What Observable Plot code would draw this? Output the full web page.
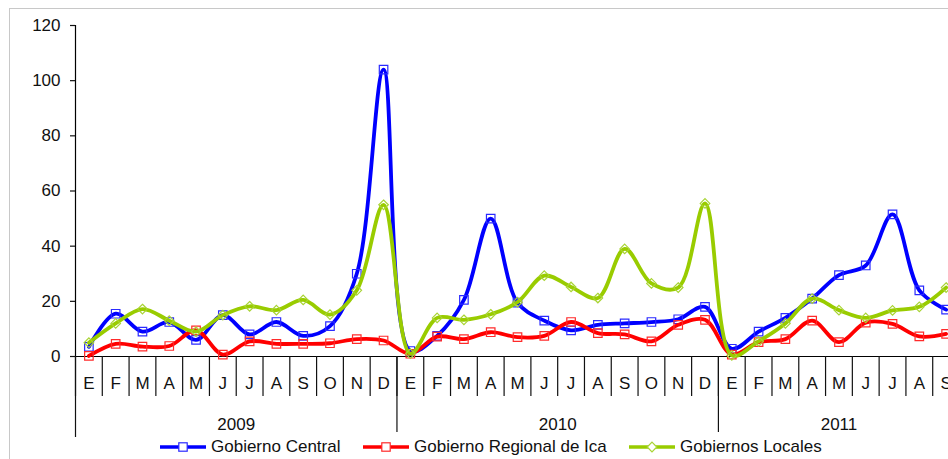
<!DOCTYPE html>
<html>
<head>
<meta charset="utf-8">
<script src="https://cdn.jsdelivr.net/npm/d3@7"></script>
<script src="https://cdn.jsdelivr.net/npm/@observablehq/plot@0.6"></script>
<style>
  html, body { margin: 0; padding: 0; overflow: hidden; background: #fff; width: 948px; height: 459px; }
  #frame { position: absolute; left: 9px; top: 8px; width: 1100px; height: 600px; border: 1px solid #c8c8c8; pointer-events: none; }
  #chart { position: absolute; left: 0; top: 0; width: 960px; height: 440px; }
  #chart svg { max-width: none !important; }
  .leg { position: absolute; top: 438px; height: 18px; display: flex; align-items: center; font-family: "Liberation Sans", Arial, sans-serif; font-size: 17px; color: #111; white-space: nowrap; }
  .leg svg { display: block; margin-right: 5px; }
</style>
</head>
<body>
<div id="chart"></div>
<div id="frame"></div>
<div id="legend"></div>
<script>
// ---- data ----
const monthNames = ["E","F","M","A","M","J","J","A","S","O","N","D"];
const years = ["2009","2010","2011"];
const monthsPerYear = [12, 12, 9];
const yTicks = [0, 20, 40, 60, 80, 100, 120];

const gobiernoCentral = [3.5,15.5,9,12.5,6,15,8,12.5,7.5,11,30,104,
                         2,7.5,20.5,50,19.5,13,9.5,11.5,12,12.5,13.5,18,
                         2.8,9,14,21,29.5,33,51.5,24,17];
const gobiernoRegional = [0.2,4.6,3.6,3.8,9.5,0.7,5.5,4.6,4.6,4.8,6.3,5.8,
                          1,7.2,6.3,8.8,7,7.5,12.5,8.5,8,5.5,11.5,13.3,
                          0.7,5.2,6.3,13,5.2,12.3,11.8,7.3,8.2];
const gobiernosLocales = [5,12,17.2,13,9,15,18.2,16.8,20.5,15.2,24,55,
                          1,14,13.3,15.3,19.7,29.3,25.2,21.2,39,26.5,25,55.5,
                          0.4,5.5,12,21,16.8,14,16.7,18,25];
const seriesNames = ["Gobierno Central", "Gobierno Regional de Ica", "Gobiernos Locales"];

// ---- build table ----
const rows = [];
const yearCenters = [];
const yearBounds = [];
let idx = 0;
years.forEach((y, k) => {
  const start = idx;
  for (let m = 0; m < monthsPerYear[k]; m++) {
    rows.push({i: idx, year: y, month: monthNames[m],
               central: gobiernoCentral[idx], regional: gobiernoRegional[idx], locales: gobiernosLocales[idx]});
    idx++;
  }
  yearCenters.push({c: (start - 0.5 + idx - 0.5) / 2, label: y});
  if (k > 0) yearBounds.push(start - 0.5);
});
const n = idx;
const indices = rows.map(d => d.i);
const monthBounds = d3.range(0, n + 1).map(k => k - 0.5);
const yearLabelByCenter = new Map(yearCenters.map(d => [d.c, d.label]));

const styles = [
  {key: "central", color: "#0000ff", mark: "#2a2aff", symbol: "square", r: 4.8},
  {key: "regional", color: "#ff0000", mark: "#ff2a2a", symbol: "square", r: 4.8},
  {key: "locales", color: "#99cc00", mark: "#a8d433", symbol: "diamond2", r: 4.3}
];

const font = {fontSize: 17, fontFamily: "Liberation Sans, Arial, sans-serif"};

const seriesMarks = styles.flatMap(s => [
  Plot.line(rows, {x: "i", y: s.key, stroke: s.color, strokeWidth: 3.8, curve: "catmull-rom"}),
  Plot.dot(rows, {x: "i", y: s.key, symbol: s.symbol, r: s.r, stroke: s.mark, fill: "none", strokeWidth: 1.2})
]);

const chart = Plot.plot({
  width: 960,
  height: 440,
  marginLeft: 75,
  marginRight: 1,
  marginTop: 25,
  marginBottom: 84,
  style: {fontFamily: "Liberation Sans, Arial, sans-serif", color: "#111", background: "transparent", maxWidth: "none"},
  x: {type: "linear", domain: [-0.5, n - 0.5], label: null},
  y: {domain: [0, 120], label: null},
  marks: [
    Plot.ruleY([0], {stroke: "#000", strokeWidth: 1.2}),
    Plot.ruleX([-0.5], {stroke: "#000", strokeWidth: 1.2}),
    Plot.axisY(yTicks, {tickSize: 5, tickPadding: 10, label: null, strokeWidth: 1.2, ...font}),
    Plot.axisX(monthBounds, {tickSize: 40, tickFormat: () => "", label: null, strokeWidth: 1.2}),
    Plot.axisX(yearBounds, {tickSize: 76, tickFormat: () => "", label: null, strokeWidth: 1.2}),
    Plot.axisX([-0.5], {tickSize: 81, tickFormat: () => "", label: null, strokeWidth: 1.2}),
    Plot.axisX(indices, {tickSize: 0, tickPadding: 20, tickFormat: i => rows[i].month, label: null, ...font}),
    Plot.axisX(yearCenters.map(d => d.c), {tickSize: 0, tickPadding: 61, tickFormat: c => yearLabelByCenter.get(c), label: null, ...font}),
    ...seriesMarks
  ]
});
chart.style.maxWidth = "none";
document.getElementById("chart").appendChild(chart);

// ---- legend ----
const legendLeft = [160, 363, 629];
const legend = document.getElementById("legend");
styles.forEach((s, k) => {
  const item = document.createElement("div");
  item.className = "leg";
  item.style.left = legendLeft[k] + "px";
  const w = 46, h = 14;
  const sym = s.symbol === "square"
    ? `<rect x="${w/2-4.2}" y="${h/2-4.2}" width="8.4" height="8.4" fill="#fff" stroke="${s.mark}" stroke-width="1.2"/>`
    : `<path d="M${w/2},${h/2-4.8}L${w/2+4.8},${h/2}L${w/2},${h/2+4.8}L${w/2-4.8},${h/2}Z" fill="#fff" stroke="${s.mark}" stroke-width="1.2"/>`;
  item.innerHTML = `<svg width="${w}" height="${h}"><line x1="0" x2="${w}" y1="${h/2}" y2="${h/2}" stroke="${s.color}" stroke-width="3.5"/>${sym}</svg><span>${seriesNames[k]}</span>`;
  legend.appendChild(item);
});
</script>
</body>
</html>
